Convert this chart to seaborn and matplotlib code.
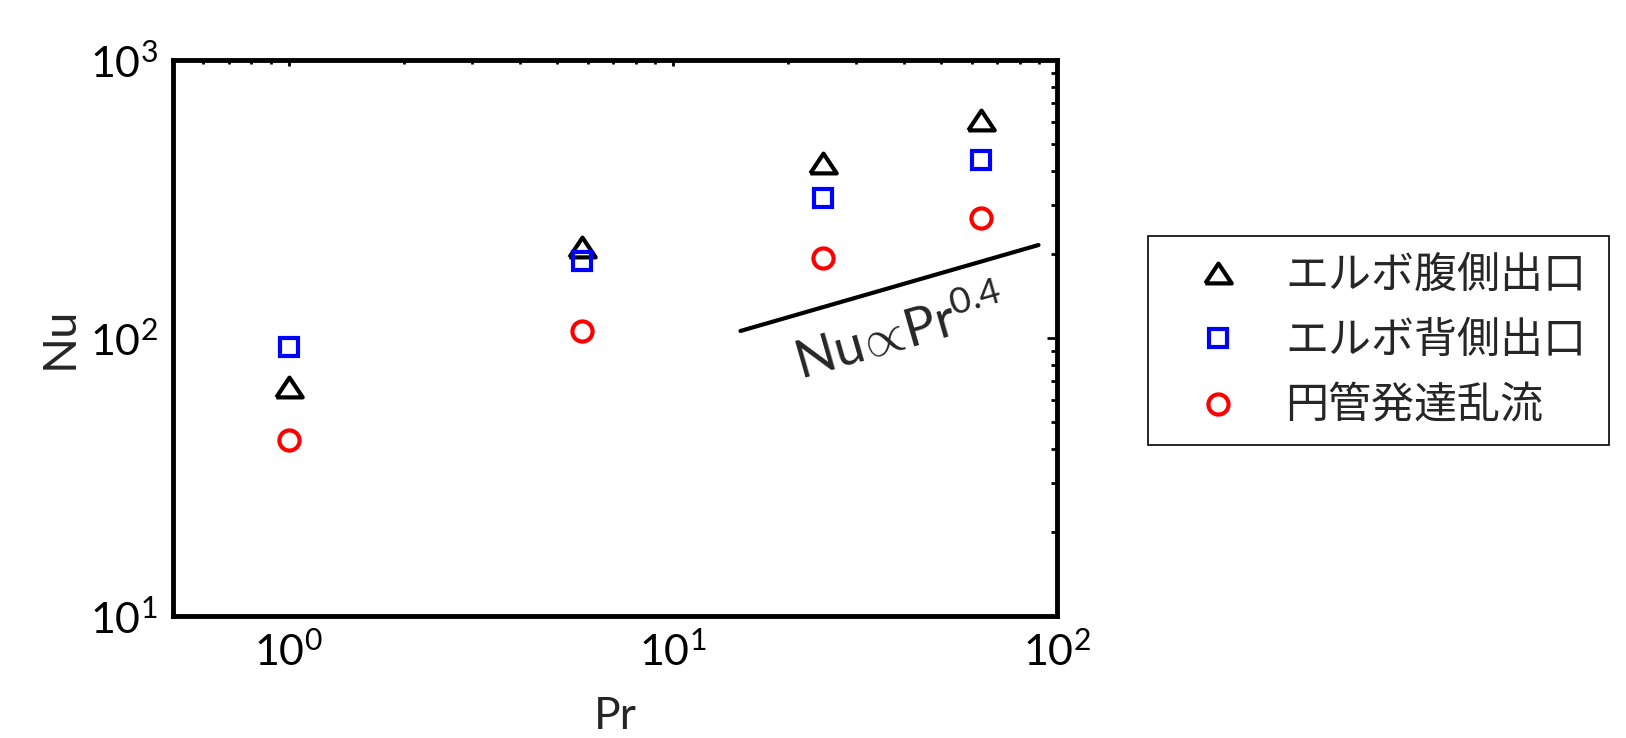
import matplotlib
matplotlib.use("Agg")
import matplotlib.pyplot as plt
import seaborn as sns
from matplotlib.ticker import LogLocator, NullFormatter

# ---- data ----
pr_values = [1.0, 5.8, 24.6, 63.5]
nu_elbow_belly = [66.7, 212.0, 426.0, 608.0]   # エルボ腹側出口
nu_elbow_back = [93.0, 189.0, 319.0, 437.0]    # エルボ背側出口
nu_pipe = [43.0, 106.0, 194.0, 270.0]          # 円管発達乱流
series_labels = ["エルボ腹側出口", "エルボ背側出口", "円管発達乱流"]
pr_guide = [15.0, 89.5]
nu_guide = [106.0, 216.0]
guide_text = r"$\mathrm{Nu}\!\propto\!\mathrm{Pr}^{0.4}$"

sns.set_style("white")
plt.rcParams["font.family"] = ["Lato", "Noto Sans CJK JP", "DejaVu Sans"]
plt.rcParams["mathtext.fontset"] = "custom"
plt.rcParams["mathtext.rm"] = "Lato"
plt.rcParams["mathtext.it"] = "Lato:italic"
plt.rcParams["mathtext.bf"] = "Lato:bold"

W, H = 1626, 738
fig = plt.figure(figsize=(W / 100, H / 100), dpi=100)
ax = fig.add_axes([173 / W, 1 - 616 / H, 884 / W, 556 / H])

tri = [(-1, -0.75), (1, -0.75), (0, 0.75), (-1, -0.75)]
styles = [
    dict(marker=tri, ms=19, mec="black"),
    dict(marker="s", ms=13.5, mec="#0000FF"),
    dict(marker="o", ms=14.5, mec="#FF0000"),
]
series = [nu_elbow_belly, nu_elbow_back, nu_pipe]
handles = []
for ys, lab, st in zip(series, series_labels, styles):
    sns.lineplot(x=pr_values, y=ys, ax=ax, linestyle="none", marker=st["marker"],
                 ms=st["ms"], mfc="none", mec=st["mec"], mew=3, color=st["mec"],
                 label=lab, errorbar=None, legend=False)
    handles.append(ax.lines[-1])

sns.lineplot(x=pr_guide, y=nu_guide, ax=ax, color="black", lw=3, legend=False)

ax.set_xscale("log")
ax.set_yscale("log")
ax.set_xlim(0.5, 100)
ax.set_ylim(10, 1000)
ax.xaxis.set_major_locator(LogLocator(base=10, numticks=10))
ax.yaxis.set_major_locator(LogLocator(base=10, numticks=10))
ax.xaxis.set_minor_locator(LogLocator(base=10, subs=range(2, 10), numticks=20))
ax.yaxis.set_minor_locator(LogLocator(base=10, subs=range(2, 10), numticks=20))
ax.xaxis.set_minor_formatter(NullFormatter())
ax.yaxis.set_minor_formatter(NullFormatter())

for s in ax.spines.values():
    s.set_linewidth(3.5)
    s.set_color("black")

ax.tick_params(which="both", direction="in", top=True, right=True, width=2, colors="black")
ax.tick_params(axis="x", which="major", length=4.5, pad=11, labelsize=31)
ax.tick_params(axis="x", which="minor", length=3)
ax.tick_params(axis="y", which="major", length=7, pad=11, labelsize=31)
ax.tick_params(axis="y", which="minor", length=4.5)

ax.set_xlabel("Pr", fontsize=32)
ax.set_ylabel("Nu", fontsize=34)
ax.xaxis.set_label_coords(0.5, -0.143)
ax.yaxis.set_label_coords(-0.105, 0.5)

ax.text(0.823, 0.505, guide_text, transform=ax.transAxes, fontsize=38,
        rotation=16, rotation_mode="anchor", ha="center", va="center")

leg = fig.legend(handles, series_labels, loc="upper left",
                 bbox_to_anchor=(1148 / W, 1 - 236 / H, 461 / W, 0.0), mode="expand",
                 borderaxespad=0, fontsize=31, frameon=True, fancybox=False,
                 borderpad=0.45, handlelength=2.37, handletextpad=0.37,
                 labelspacing=0.6, framealpha=1)
leg.get_frame().set_edgecolor("black")
leg.get_frame().set_linewidth(1.2)

fig.savefig("out.png", dpi=100)
